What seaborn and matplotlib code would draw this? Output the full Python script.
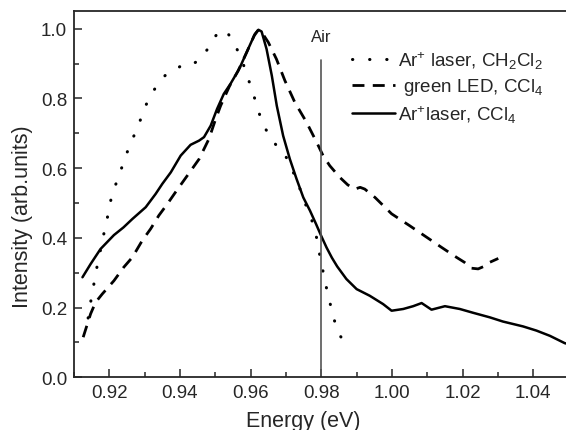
import numpy as np
import pandas as pd
import matplotlib
matplotlib.use("Agg")
import matplotlib.pyplot as plt
from matplotlib.ticker import MultipleLocator, FormatStrFormatter
import seaborn as sns

# Photoluminescence spectra (normalised)
energy_ch2cl2 = [0.9140, 0.9145, 0.9152, 0.9159, 0.9166, 0.9175, 0.9183, 0.9192, 0.9200,
                 0.9208, 0.9223, 0.9237, 0.9251, 0.9268, 0.9284, 0.9298, 0.9315, 0.9338,
                 0.9359, 0.9383, 0.9414, 0.9440, 0.9458, 0.9477, 0.9494, 0.9512, 0.9532,
                 0.9551, 0.9570, 0.9579, 0.9593, 0.9606, 0.9617, 0.9628, 0.9640, 0.9655,
                 0.9673, 0.9692, 0.9706, 0.9722, 0.9738, 0.9752, 0.9765, 0.9777, 0.9787,
                 0.9794, 0.9802, 0.9810, 0.9819, 0.9828, 0.9838, 0.9851, 0.9869]
int_ch2cl2 = [0.170, 0.204, 0.242, 0.284, 0.322, 0.365, 0.405, 0.445, 0.487,
              0.527, 0.566, 0.607, 0.647, 0.689, 0.727, 0.768, 0.806, 0.842,
              0.867, 0.880, 0.901, 0.901, 0.913, 0.940, 0.970, 0.994, 0.992,
              0.963, 0.923, 0.899, 0.856, 0.820, 0.779, 0.746, 0.717, 0.689,
              0.665, 0.646, 0.622, 0.585, 0.545, 0.505, 0.472, 0.440, 0.399,
              0.359, 0.319, 0.277, 0.237, 0.199, 0.160, 0.124, 0.091]

energy_led = [0.9126, 0.9147, 0.9161, 0.9180, 0.9213, 0.9241, 0.9265, 0.9293, 0.9317,
              0.9340, 0.9364, 0.9390, 0.9421, 0.9454, 0.9482, 0.9501, 0.9515, 0.9540,
              0.9565, 0.9590, 0.9610, 0.9622, 0.9630, 0.9650, 0.9673, 0.9697, 0.9725,
              0.9758, 0.9787, 0.9805, 0.9824, 0.9852, 0.9875, 0.9895, 0.9910, 0.9923,
              0.9952, 0.9966, 0.9999, 1.0050, 1.0098, 1.0140, 1.0183, 1.0205, 1.0225,
              1.0244, 1.0260, 1.0277, 1.0301]
int_led = [0.115, 0.182, 0.215, 0.239, 0.277, 0.316, 0.344, 0.392, 0.426,
           0.464, 0.497, 0.535, 0.579, 0.626, 0.684, 0.741, 0.779, 0.835,
           0.880, 0.935, 0.980, 0.997, 0.992, 0.961, 0.913, 0.851, 0.789,
           0.732, 0.674, 0.636, 0.607, 0.574, 0.552, 0.540, 0.545, 0.540,
           0.516, 0.502, 0.469, 0.435, 0.402, 0.373, 0.344, 0.330, 0.313,
           0.311, 0.318, 0.330, 0.341]

energy_ccl4 = [0.9124, 0.9147, 0.9175, 0.9213, 0.9240, 0.9265, 0.9303, 0.9331, 0.9350,
               0.9374, 0.9402, 0.9430, 0.9454, 0.9468, 0.9487, 0.9505, 0.9524, 0.9543,
               0.9562, 0.9570, 0.9593, 0.9612, 0.9622, 0.9631, 0.9645, 0.9660, 0.9674,
               0.9692, 0.9711, 0.9730, 0.9749, 0.9768, 0.9785, 0.9800, 0.9815, 0.9830,
               0.9845, 0.9871, 0.9900, 0.9937, 0.9975, 0.9999, 1.0032, 1.0060, 1.0084,
               1.0112, 1.0150, 1.0192, 1.0230, 1.0277, 1.0314, 1.0371, 1.0409, 1.0447,
               1.0489, 1.0500]
int_ccl4 = [0.287, 0.325, 0.368, 0.408, 0.430, 0.454, 0.488, 0.526, 0.555,
            0.588, 0.636, 0.667, 0.679, 0.689, 0.722, 0.770, 0.813, 0.842,
            0.875, 0.890, 0.942, 0.985, 0.997, 0.992, 0.942, 0.865, 0.779,
            0.693, 0.626, 0.569, 0.516, 0.478, 0.440, 0.405, 0.372, 0.343,
            0.318, 0.282, 0.253, 0.234, 0.210, 0.191, 0.196, 0.204, 0.213,
            0.194, 0.204, 0.196, 0.185, 0.172, 0.160, 0.146, 0.134, 0.119,
            0.098, 0.095]

labels = ["Ar$^{+}$ laser, CH$_{2}$Cl$_{2}$",
          " green LED, CCl$_{4}$",
          "Ar$^{+}$laser, CCl$_{4}$"]

air_energy = 0.98
air_top = 0.91

x_ticks = [0.92, 0.94, 0.96, 0.98, 1.00, 1.02, 1.04]
y_ticks = [0.0, 0.2, 0.4, 0.6, 0.8, 1.0]

sns.set_style("ticks")
plt.rcParams["font.family"] = ["Liberation Sans", "DejaVu Sans"]
plt.rcParams["mathtext.fontset"] = "custom"
plt.rcParams["mathtext.rm"] = "Liberation Sans"
plt.rcParams["mathtext.it"] = "Liberation Sans"
plt.rcParams["mathtext.default"] = "rm"

fig = plt.figure(figsize=(5.66, 4.31), dpi=100)
ax = fig.add_axes([74 / 566, 1 - 378.3 / 431, 494.6 / 566, 366 / 431])

sns.lineplot(x=energy_ch2cl2, y=int_ch2cl2, ax=ax, sort=False, estimator=None,
             color="black", lw=2.2, label=labels[0],
             linestyle=(0, (0.1, 5.5)), dash_capstyle="round")
sns.lineplot(x=energy_led, y=int_led, ax=ax, sort=False, estimator=None,
             color="black", lw=2.0, label=labels[1],
             linestyle=(0, (4.3, 3.0)))
sns.lineplot(x=energy_ccl4, y=int_ccl4, ax=ax, sort=False, estimator=None,
             color="black", lw=1.8, label=labels[2])

ax.plot([air_energy, air_energy], [0, air_top], color="#555555", lw=1.2)
ax.text(air_energy, 0.978, "Air", ha="center", va="center", fontsize=12)

ax.set_xlim(0.91, 1.05)
ax.set_ylim(0, 1.05)
ax.set_xticks(x_ticks)
ax.set_yticks(y_ticks)
ax.xaxis.set_minor_locator(MultipleLocator(0.01))
ax.yaxis.set_minor_locator(MultipleLocator(0.1))
ax.xaxis.set_major_formatter(FormatStrFormatter("%.2f"))
ax.yaxis.set_major_formatter(FormatStrFormatter("%.1f"))
ax.tick_params(which="both", direction="in", top=False, right=False, width=1.1)
ax.tick_params(which="major", length=6, labelsize=13.5, pad=5)
ax.tick_params(which="minor", length=3.5)
for s in ax.spines.values():
    s.set_linewidth(1.3)

ax.set_xlabel("Energy (eV)", fontsize=15.5, va="baseline")
ax.xaxis.set_label_coords(0.463, -0.132)
ax.set_ylabel("Intensity (arb.units)", fontsize=15.5, va="baseline")
ax.yaxis.set_label_coords(-0.093, 0.442)

ax.legend(loc="upper left", bbox_to_anchor=(352 / 566, 1 - 50 / 431),
          bbox_transform=fig.transFigure, frameon=False, fontsize=13.5,
          handlelength=2.3, handletextpad=0.15, labelspacing=0.3,
          borderaxespad=0, borderpad=0)

fig.savefig("out.png", dpi=100)
